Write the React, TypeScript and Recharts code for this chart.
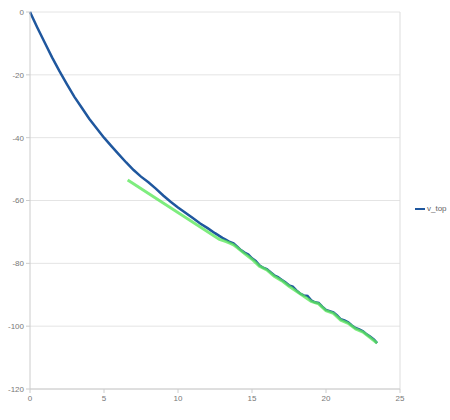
import React from 'react';
import { LineChart, Line, XAxis, YAxis, CartesianGrid, ReferenceLine } from 'recharts';

// v_top measured curve (x, y)
const topX = [
  0, 0.5, 1, 1.5, 2, 2.5, 3, 3.5, 4, 4.5, 5, 5.5, 6, 6.5, 7, 7.5, 8, 8.5, 9, 9.5,
  10, 10.5, 11, 11.5, 12, 12.5, 13, 13.25, 13.5, 13.75, 14, 14.25, 14.5, 14.75, 15, 15.25,
  15.5, 15.75, 16, 16.25, 16.5, 16.75, 17, 17.25, 17.5, 17.75, 18, 18.25, 18.5, 18.75,
  19, 19.25, 19.5, 19.75, 20, 20.25, 20.5, 20.75, 21, 21.25, 21.5, 21.75, 22, 22.25,
  22.5, 22.75, 23, 23.25, 23.45,
];
const topY = [
  0, -5, -9.8, -14.5, -18.9, -23, -27, -30.5, -34, -37, -40, -42.7, -45.3, -47.9, -50.3, -52.4, -54.2, -56.2, -58.4, -60.4,
  -62.2, -63.9, -65.6, -67.3, -68.8, -70.4, -71.9, -72.5, -73.2, -73.6, -74.7, -75.8, -76.6, -77.2, -78.4, -79.2,
  -80.6, -81.4, -81.8, -82.8, -83.8, -84.4, -85.2, -86.0, -87.0, -87.4, -88.6, -89.6, -90.2, -90.4,
  -91.8, -92.4, -92.6, -93.8, -94.8, -95.2, -95.6, -96.6, -97.8, -98.2, -98.8, -99.8, -100.6, -101.0,
  -101.6, -102.6, -103.4, -104.3, -105.4,
];

// green fitted line
const fitX = [6.6, 12.8, 13, 13.25, 13.5, 13.75, 14, 14.5, 15, 15.5, 16, 16.5, 17, 17.5, 18, 18.5, 19, 19.5, 20, 20.5, 21, 21.5, 22, 22.5, 23, 23.45];
const fitY = [-53.5, -72.4, -72.7, -73.1, -73.6, -74.1, -75.0, -76.9, -78.7, -80.9, -82.1, -84.1, -85.5, -87.3, -88.9, -90.5, -92.1, -92.9, -95.1, -95.9, -98.1, -99.1, -100.9, -101.9, -103.7, -105.4];

const xTicks = [0, 5, 10, 15, 20, 25];
const yTicks = [0, -20, -40, -60, -80, -100, -120];

const topData = topX.map((x, i) => ({ x, y: topY[i] }));
const fitData = fitX.map((x, i) => ({ x, y: fitY[i] }));

const tickStyle = { fontSize: 8, fill: '#777', fontFamily: 'Liberation Sans, Arial, sans-serif' };

export default function App() {
  return (
    <div style={{ position: 'absolute', left: 0, top: 0, width: 450, height: 420, background: '#fff' }}>
      <LineChart width={450} height={420} margin={{ top: 12, right: 50, bottom: 11, left: 0 }}>
        <CartesianGrid vertical={false} stroke="#e4e4e4" />
        <XAxis
          type="number"
          dataKey="x"
          domain={[0, 25]}
          ticks={xTicks}
          height={20}
          tick={tickStyle}
          stroke="#ccc"
          tickSize={4}
        />
        <YAxis
          type="number"
          dataKey="y"
          domain={[-120, 0]}
          ticks={yTicks}
          width={30}
          tick={tickStyle}
          stroke="#ccc"
          tickSize={4}
        />
        <ReferenceLine x={25} stroke="#ddd" />
        <Line
          data={topData}
          dataKey="y"
          type="linear"
          stroke="#1f579e"
          strokeWidth={2.5}
          dot={false}
          isAnimationActive={false}
        />
        <Line
          data={fitData}
          dataKey="y"
          type="linear"
          stroke="#5ee85e"
          strokeOpacity={0.8}
          strokeWidth={3}
          dot={false}
          isAnimationActive={false}
        />
      </LineChart>
      <div
        style={{
          position: 'absolute',
          left: 415,
          top: 204,
          display: 'flex',
          alignItems: 'center',
          fontSize: 8,
          color: '#666',
          fontFamily: 'Liberation Sans, Arial, sans-serif',
        }}
      >
        <span style={{ display: 'inline-block', width: 10, height: 2, background: '#1f579e', marginRight: 2 }} />
        v_top
      </div>
    </div>
  );
}
